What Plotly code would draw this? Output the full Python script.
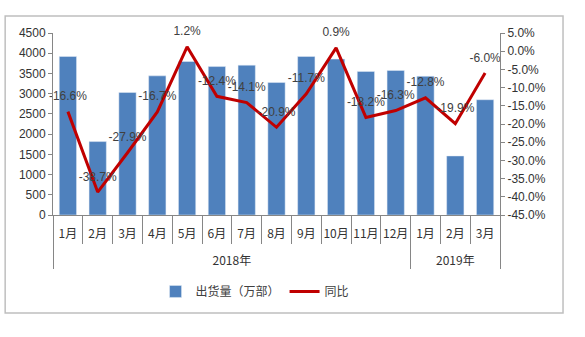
import plotly.graph_objects as go

years = ["2018年"] * 12 + ["2019年"] * 3
months = ["1月", "2月", "3月", "4月", "5月", "6月", "7月", "8月", "9月", "10月", "11月", "12月", "1月", "2月", "3月"]
shipments = [3920, 1815, 3030, 3440, 3795, 3670, 3705, 3275, 3920, 3855, 3550, 3575, 3430, 1460, 2850]
yoy = [-16.6, -38.7, -27.9, -16.7, 1.2, -12.4, -14.1, -20.9, -11.7, 0.9, -18.2, -16.3, -12.8, -19.9, -6.0]
yoy_labels = [f"{v:.1f}%" for v in yoy]
right_ticks = [5, 0, -5, -10, -15, -20, -25, -30, -35, -40, -45]

font_main = "Liberation Sans, Noto Sans CJK SC, sans-serif"
font_cjk = "Noto Sans CJK SC, sans-serif"

month_text = [m + "<br> " for m in months]

fig = go.Figure()
fig.add_trace(go.Bar(
    x=[years, month_text], y=shipments, name="出货量（万部）",
    marker=dict(color="#4F81BD"), yaxis="y",
))
fig.add_trace(go.Scatter(
    x=[years, month_text], y=yoy, name="同比", yaxis="y2",
    mode="lines+markers+text", line=dict(color="#C00000", width=3),
    marker=dict(size=12, color="rgba(0,0,0,0)"),
    text=yoy_labels, textposition="top center", cliponaxis=False,
    textfont=dict(size=12, color="#404040", family=font_main),
))

fig.update_layout(
    width=585, height=337,
    margin=dict(l=53, r=85, t=33, b=122),
    paper_bgcolor="white", plot_bgcolor="white",
    bargap=0.42,
    showlegend=True,
    legend=dict(orientation="h", x=0.452, xanchor="center", y=-0.42, yanchor="middle",
                font=dict(size=12, family=font_cjk, color="#404040")),
    xaxis=dict(
        type="multicategory", range=[-0.5, 14.5], autorange=False,
        showline=True, linecolor="#868686",
        ticks="outside", tickson="boundaries", ticklen=28, tickcolor="#868686",
        tickangle=0, ticklabelstandoff=8,
        showdividers=True, dividercolor="#868686", dividerwidth=1,
        tickfont=dict(size=12, family=font_cjk, color="#333333"),
        showgrid=False,
    ),
    yaxis=dict(
        range=[0, 4500], dtick=500, showline=True, linecolor="#868686",
        ticks="outside", ticklen=4, tickcolor="#868686", showgrid=False,
        tickfont=dict(size=12, family=font_main, color="#333333"),
    ),
    yaxis2=dict(
        overlaying="y", side="right", range=[-45, 5],
        tickvals=right_ticks, ticktext=[f"{v:.1f}%" for v in right_ticks],
        showline=True, linecolor="#868686", ticks="outside", ticklen=4,
        tickcolor="#868686", showgrid=False, zeroline=False,
        tickfont=dict(size=12, family=font_main, color="#333333"),
    ),
    shapes=[dict(type="rect", xref="paper", yref="paper",
                 x0=-0.107, x1=1.141, y0=-0.538, y1=1.093,
                 line=dict(color="#BFBFBF", width=1.5), layer="below")],
)

fig.write_html("out.html")
